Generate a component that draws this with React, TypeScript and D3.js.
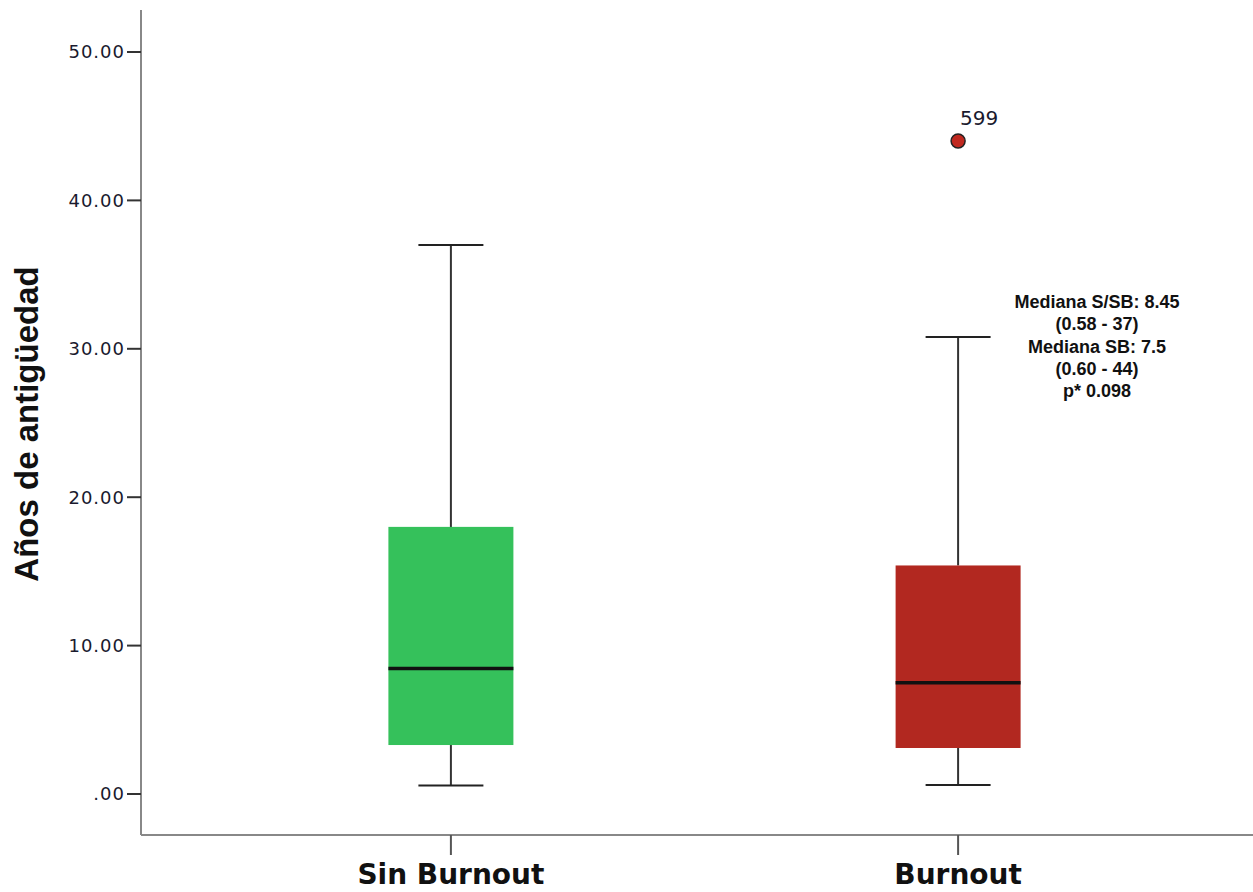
import React from "react";
import * as d3 from "d3";

const categories = ["Sin Burnout", "Burnout"];
const lowWhisker = [0.58, 0.6];
const q1 = [3.3, 3.1];
const medians = [8.45, 7.5];
const q3 = [18.0, 15.4];
const highWhisker = [37, 30.8];
const fills = ["#35c15b", "#b22820"];
const outliers = [{ group: "Burnout", value: 44, label: "599" }];
const yTicks = [0, 10, 20, 30, 40, 50];
const tickLabels = [".00", "10.00", "20.00", "30.00", "40.00", "50.00"];
const notes = ["Mediana S/SB: 8.45", "(0.58 - 37)", "Mediana SB: 7.5", "(0.60 - 44)", "p* 0.098"];

const W = 1253;
const H = 892;
const axisX = 141;
const axisBottom = 835;

export default function App() {
  const y = d3.scaleLinear().domain([0, 50]).range([794, 52]);
  const x = d3.scalePoint<string>().domain(categories).range([axisX, 1268]).padding(0.611);
  const boxW = 125;
  const capW = 65;

  return (
    <svg width={W} height={H} style={{ position: "absolute", left: 0, top: 0 }}>
      <rect width={W} height={H} fill="#fff" />
      {/* axes */}
      <line x1={axisX} x2={axisX} y1={10} y2={axisBottom} stroke="#888" strokeWidth={2} />
      <line x1={axisX} x2={W} y1={axisBottom} y2={axisBottom} stroke="#888" strokeWidth={2} />
      {yTicks.map((t, i) => (
        <g key={t}>
          <line x1={axisX - 14} x2={axisX} y1={y(t)} y2={y(t)} stroke="#333" strokeWidth={2} />
          <text x={axisX - 16} y={y(t)} dy="0.36em" textAnchor="end" fontFamily="DejaVu Sans" fontSize={18} letterSpacing={1} fill="#1a1a2e">
            {tickLabels[i]}
          </text>
        </g>
      ))}
      <text
        transform={`translate(38,${424}) rotate(-90)`}
        textAnchor="middle"
        fontFamily="Liberation Sans, Arial"
        fontWeight="bold"
        fontSize={33}
        fill="#111"
      >
        Años de antigüedad
      </text>
      {categories.map((c) => (
        <g key={"xt" + c}>
          <line x1={x(c)} x2={x(c)} y1={axisBottom} y2={axisBottom + 20} stroke="#555" strokeWidth={2} />
          <text x={x(c)} y={884} textAnchor="middle" fontFamily="DejaVu Sans" fontWeight="bold" fontSize={28} fill="#111">
            {c}
          </text>
        </g>
      ))}
      {/* boxes */}
      {categories.map((c, i) => {
        const cx = x(c) as number;
        return (
          <g key={c}>
            <line x1={cx} x2={cx} y1={y(highWhisker[i])} y2={y(q3[i])} stroke="#333" strokeWidth={2} />
            <line x1={cx} x2={cx} y1={y(q1[i])} y2={y(lowWhisker[i])} stroke="#333" strokeWidth={2} />
            <line x1={cx - capW / 2} x2={cx + capW / 2} y1={y(highWhisker[i])} y2={y(highWhisker[i])} stroke="#222" strokeWidth={2} />
            <line x1={cx - capW / 2} x2={cx + capW / 2} y1={y(lowWhisker[i])} y2={y(lowWhisker[i])} stroke="#222" strokeWidth={2} />
            <rect x={cx - boxW / 2} y={y(q3[i])} width={boxW} height={y(q1[i]) - y(q3[i])} fill={fills[i]} />
            <line x1={cx - boxW / 2} x2={cx + boxW / 2} y1={y(medians[i])} y2={y(medians[i])} stroke="#111" strokeWidth={3.5} />
          </g>
        );
      })}
      {outliers.map((o) => (
        <g key={o.label}>
          <circle cx={x(o.group)} cy={y(o.value)} r={7} fill="#c0281f" stroke="#222" strokeWidth={1.5} />
          <text x={(x(o.group) as number) + 2} y={y(o.value) - 16} fontFamily="DejaVu Sans" fontSize={20} fill="#1a1a2e">
            {o.label}
          </text>
        </g>
      ))}
      {notes.map((n, i) => (
        <text key={n} x={1097} y={308 + i * 22.3} textAnchor="middle" fontFamily="Liberation Sans, Arial" fontWeight="bold" fontSize={18} fill="#111">
          {n}
        </text>
      ))}
    </svg>
  );
}
